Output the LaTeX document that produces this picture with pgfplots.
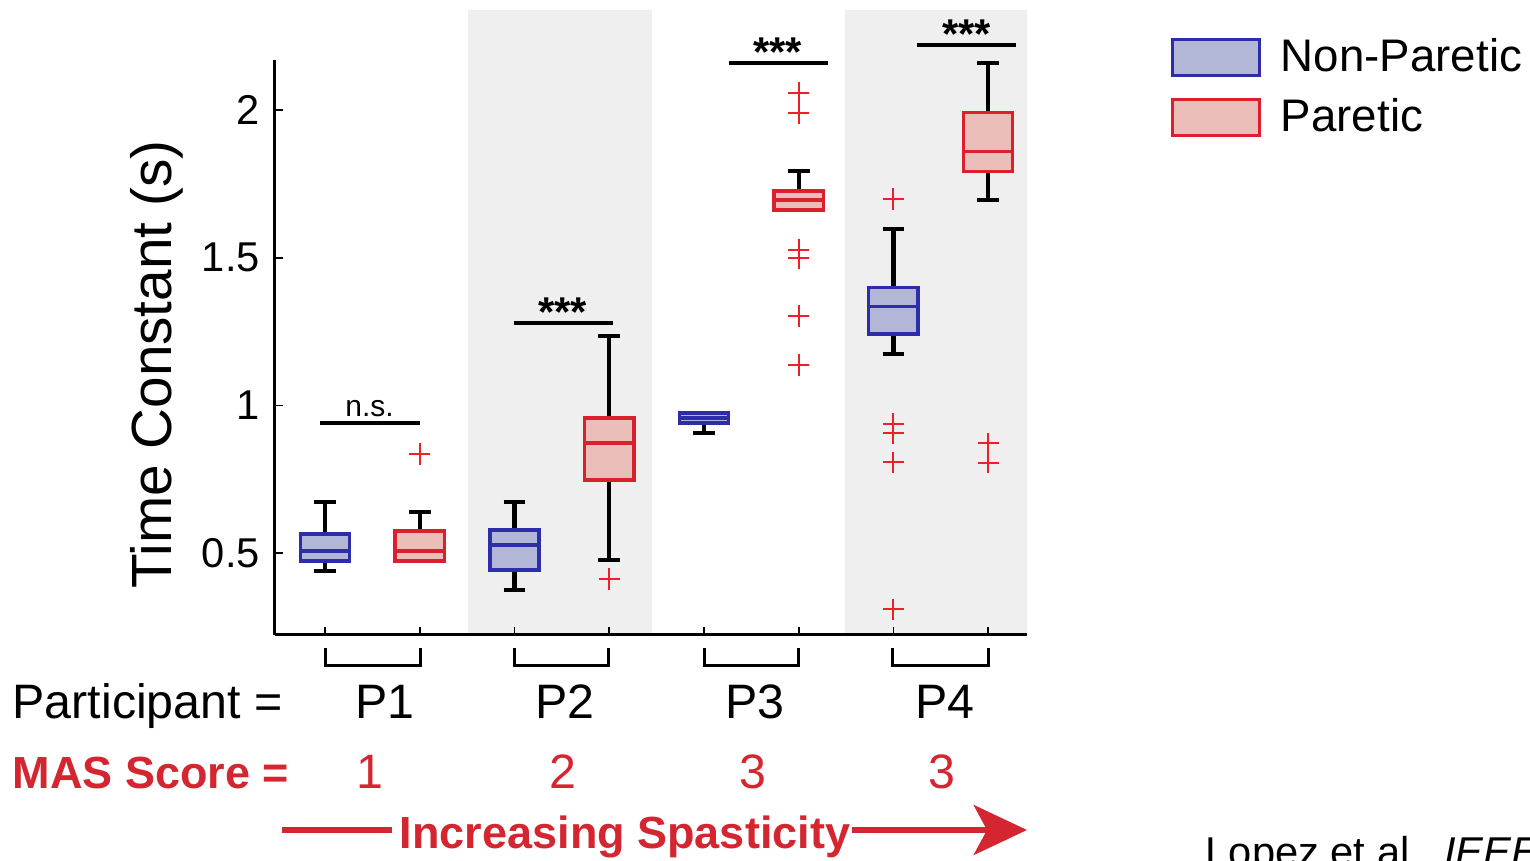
\documentclass[border=0pt]{standalone}
\usepackage{pgfplots}
\pgfplotsset{compat=1.18}
\usepgfplotslibrary{statistics}
\usetikzlibrary{arrows.meta}
\usepackage{fontspec}
\setmainfont{Liberation Sans}

\definecolor{npblue}{RGB}{45,45,170}
\definecolor{npfill}{RGB}{178,182,215}
\definecolor{pred}{RGB}{218,32,45}
\definecolor{pfill}{RGB}{236,190,186}
\definecolor{outred}{RGB}{240,30,40}
\definecolor{bandgray}{RGB}{239,239,239}
\definecolor{masred}{RGB}{212,38,48}

\newcommand\fs[1]{\fontsize{#1}{#1}\selectfont}

\pgfplotsset{
  np/.style={draw=npblue, fill=npfill, line width=1.0pt,
    mark=+, mark size=3.2pt, mark options={draw=outred, line width=0.6pt}},
  pa/.style={draw=pred, fill=pfill, line width=1.0pt,
    mark=+, mark size=3.2pt, mark options={draw=outred, line width=0.6pt}},
}

\begin{document}
\begin{tikzpicture}
\begin{axis}[
  at={(0,0)}, anchor=south west,
  scale only axis, width=225.6pt, height=172.5pt,
  xmin=0.472, xmax=8.41, ymin=0.2223, ymax=2.1695,
  axis x line=bottom, axis y line=left,
  axis line style={line width=0.9pt, -},
  axis on top, clip=false,
  xtick={1,...,8}, xticklabels={},
  ytick={0.5,1,1.5,2},
  tick align=inside, major tick length=2.4pt,
  tick style={line width=0.5pt, black},
  yticklabel style={font=\fs{12.5}, xshift=-1pt},
  /pgf/number format/assume math mode=true,
  ylabel={Time Constant (s)},
  ylabel style={font=\fs{17}, at={(axis description cs:-0.157,0.47)}, anchor=center},
  boxplot/draw direction=y,
  boxplot/box extend=0.52,
  boxplot/whisker extend=0.23,
  boxplot/every whisker/.style={draw=black, line width=1.25pt},
  boxplot/every median/.style={line width=1.0pt},
  legend style={at={(axis description cs:1.19,1.05)}, anchor=north west,
    draw=none, fill=none, inner sep=0pt, font=\fs{13.7},
    row sep=2.5pt, column sep=4pt, nodes={inner sep=2pt, text depth=0.15em}},
  legend cell align=left,
]
% shaded participant bands
\fill[bandgray] (axis cs:2.51,0.2223) rectangle (axis cs:4.45,2.339);
\fill[bandgray] (axis cs:6.49,0.2223) rectangle (axis cs:8.41,2.339);

\addlegendimage{legend image code/.code={\draw[draw=npblue, fill=npfill, line width=1.0pt] (0pt,-5.4pt) rectangle (26.1pt,5.4pt);}}
\addlegendentry{Non-Paretic}
\addlegendimage{legend image code/.code={\draw[draw=pred, fill=pfill, line width=1.0pt] (0pt,-5.4pt) rectangle (26.1pt,5.4pt);}}
\addlegendentry{Paretic}

% P1
\addplot[np, forget plot, boxplot prepared={draw position=1,
  lower whisker=0.439, lower quartile=0.473, median=0.507,
  upper quartile=0.564, upper whisker=0.673}] coordinates {};
\addplot[pa, forget plot, boxplot prepared={draw position=2,
  lower whisker=0.473, lower quartile=0.473, median=0.507,
  upper quartile=0.575, upper whisker=0.639,
  draw/lower whisker/.code={}}]
  table[row sep=\\, y index=0] {data\\ 0.835\\};
% P2
\addplot[np, forget plot, boxplot prepared={draw position=3,
  lower whisker=0.375, lower quartile=0.442, median=0.527,
  upper quartile=0.578, upper whisker=0.673}] coordinates {};
\addplot[pa, forget plot, boxplot prepared={draw position=4,
  lower whisker=0.476, lower quartile=0.747, median=0.873,
  upper quartile=0.957, upper whisker=1.235}]
  table[row sep=\\, y index=0] {data\\ 0.412\\};
% P3
\addplot[np, forget plot, boxplot prepared={draw position=5,
  lower whisker=0.906, lower quartile=0.940, median=0.957,
  upper quartile=0.974, upper whisker=0.974,
  draw/upper whisker/.code={}}] coordinates {};
\addplot[pa, forget plot, boxplot prepared={draw position=6,
  lower whisker=1.662, lower quartile=1.662, median=1.695,
  upper quartile=1.726, upper whisker=1.794,
  draw/lower whisker/.code={}}]
  table[row sep=\\, y index=0] {data\\ 2.058\\ 1.990\\ 1.526\\ 1.499\\ 1.303\\ 1.137\\};
% P4
\addplot[np, forget plot, boxplot prepared={draw position=7,
  lower whisker=1.174, lower quartile=1.242, median=1.334,
  upper quartile=1.400, upper whisker=1.596}]
  table[row sep=\\, y index=0] {data\\ 1.699\\ 0.937\\ 0.905\\ 0.807\\ 0.309\\};
\addplot[pa, forget plot, boxplot prepared={draw position=8,
  lower whisker=1.695, lower quartile=1.791, median=1.859,
  upper quartile=1.991, upper whisker=2.160}]
  table[row sep=\\, y index=0] {data\\ 0.871\\ 0.806\\};

% significance bars
\draw[line width=1.2pt] (axis cs:0.947,0.940) -- (axis cs:2.0,0.940);
\node[anchor=base, inner sep=0, font=\fs{9}] at (axis cs:1.47,0.962) {n.s.};
\draw[line width=1.2pt] (axis cs:2.99,1.279) -- (axis cs:4.04,1.279);
\node[anchor=base, inner sep=0, font=\fs{12.5}\bfseries] at (axis cs:3.51,1.268) {***};
\draw[line width=1.2pt] (axis cs:5.26,2.159) -- (axis cs:6.31,2.159);
\node[anchor=base, inner sep=0, font=\fs{12.5}\bfseries] at (axis cs:5.78,2.148) {***};
\draw[line width=1.2pt] (axis cs:7.25,2.220) -- (axis cs:8.29,2.220);
\node[anchor=base, inner sep=0, font=\fs{12.5}\bfseries] at (axis cs:7.77,2.209) {***};
\end{axis}

\begin{scope}[x=0.3pt, y=-0.3pt, shift={(-82.5pt,190.5pt)}]
  % participant brackets
  \foreach \a/\b in {325/420, 514/608, 704/798, 892/988}
    \draw[line width=0.9pt] (\a,648) -- (\a,665) -- (\b,665) -- (\b,648);
  \node[anchor=base west, inner sep=0] at (12,718) {\fs{14.5}Participant =};
  \foreach \x/\t in {385/P1, 565/P2, 755/P3, 945/P4}
    \node[anchor=base, inner sep=0] at (\x,718) {\fs{14.5}\t};
  \node[anchor=base west, inner sep=0, text=masred] at (12,788) {\fs{13.5}\bfseries MAS Score =};
  \foreach \x/\t in {370/1, 563/2, 753/3, 942/3}
    \node[anchor=base, inner sep=0, text=masred] at (\x,788) {\fs{14.5}\t};
  \draw[masred, line width=1.6pt] (282,830) -- (392,830);
  \draw[masred, line width=1.6pt, -{Stealth[length=16pt, width=15pt, inset=4pt]}] (852,830) -- (1027,830);
  \node[anchor=base, inner sep=0, text=masred] at (625,848) {\fs{13.5}\bfseries Increasing Spasticity};
  \node[anchor=base west, inner sep=0] at (1205,866) {\fs{12.5}Lopez et al., \textit{IEEE}};
  \pgfresetboundingbox
  \useasboundingbox (0,0) rectangle (1530,860);
\end{scope}
\end{tikzpicture}
\end{document}
